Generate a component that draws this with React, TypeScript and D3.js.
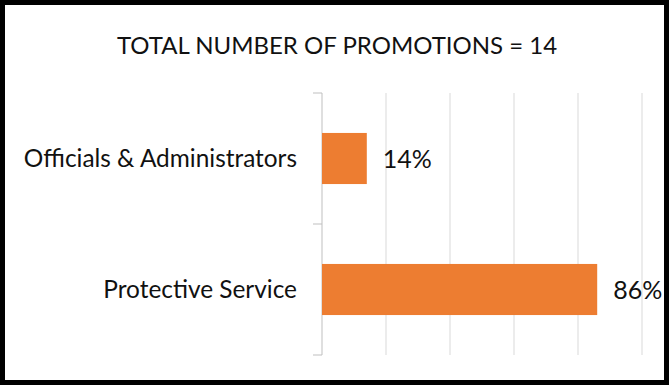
import React from 'react'
import * as d3 from 'd3'

const categories = ['Officials & Administrators', 'Protective Service']
const shares = [0.14, 0.86]
const shareLabels = ['14%', '86%']
const gridTicks = [0, 0.2, 0.4, 0.6, 0.8, 1]
const title = 'TOTAL NUMBER OF PROMOTIONS = 14'

const W = 670
const H = 386
const FONT = 'Lato, "Open Sans", sans-serif'

const App = (): JSX.Element => {
  const x = d3.scaleLinear().domain([0, 1]).range([322, 642])
  const y = d3
    .scaleBand<string>()
    .domain(categories)
    .range([93, 355])
    .paddingInner(0.61)
    .paddingOuter(0.305)
  const step = y.step()

  return (
    <svg
      width={W}
      height={H}
      style={{ position: 'absolute', left: 0, top: 0, background: '#fff' }}
    >
      <rect x={0} y={0} width={W} height={H} fill='#fff' />
      {/* title */}
      <text
        x={337}
        y={54}
        textAnchor='middle'
        fontFamily={FONT}
        fontSize={24}
        fill='#111'
      >
        {title}
      </text>
      {/* vertical gridlines */}
      {gridTicks.slice(1).map(t => (
        <line
          key={t}
          x1={x(t)}
          x2={x(t)}
          y1={93}
          y2={355}
          stroke='#d9d9d9'
          strokeWidth={1}
        />
      ))}
      {/* category axis */}
      <line x1={x(0)} x2={x(0)} y1={93} y2={355} stroke='#bfbfbf' strokeWidth={1} />
      {[0, 1, 2].map(i => (
        <line
          key={i}
          x1={313}
          x2={x(0)}
          y1={93 + i * step}
          y2={93 + i * step}
          stroke='#bfbfbf'
          strokeWidth={1}
        />
      ))}
      {/* bars */}
      {categories.map((c, i) => (
        <rect
          key={c}
          x={x(0)}
          y={y(c)}
          width={x(shares[i]) - x(0)}
          height={y.bandwidth()}
          fill='#ED7D31'
        />
      ))}
      {/* category labels */}
      {categories.map(c => (
        <text
          key={c}
          x={297}
          y={(y(c) ?? 0) + y.bandwidth() / 2}
          dy='0.33em'
          textAnchor='end'
          fontFamily={FONT}
          fontSize={24.4}
          fill='#111'
        >
          {c}
        </text>
      ))}
      {/* value labels */}
      {categories.map((c, i) => (
        <text
          key={c}
          x={x(shares[i]) + 16}
          y={(y(c) ?? 0) + y.bandwidth() / 2}
          dy='0.36em'
          fontFamily={FONT}
          fontSize={25}
          fill='#111'
        >
          {shareLabels[i]}
        </text>
      ))}
      {/* frame */}
      <rect
        x={2.5}
        y={2.5}
        width={W - 6}
        height={H - 6}
        fill='none'
        stroke='#000'
        strokeWidth={5}
      />
    </svg>
  )
}

export default App
